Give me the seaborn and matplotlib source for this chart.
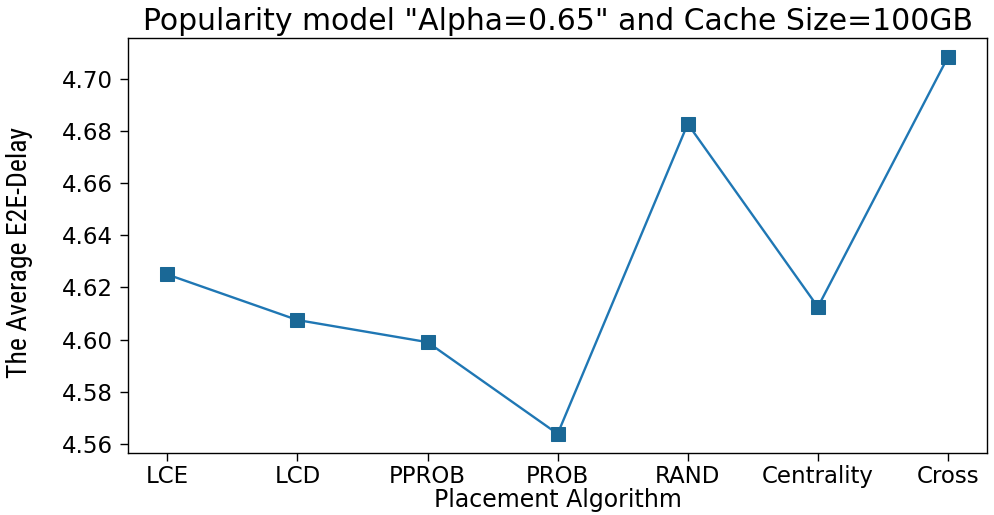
import matplotlib
matplotlib.use("Agg")
import matplotlib.pyplot as plt
import seaborn as sns
import pandas as pd

algorithms = ["LCE", "LCD", "PPROB", "PROB", "RAND", "Centrality", "Cross"]
avg_delay = [4.625, 4.6075, 4.599, 4.5638, 4.6828, 4.6125, 4.7085]
ytick_values = [4.56, 4.58, 4.60, 4.62, 4.64, 4.66, 4.68, 4.70]

df = pd.DataFrame({"Placement Algorithm": algorithms, "delay": avg_delay})

sns.set_style("ticks")
plt.rcParams["font.family"] = ["DejaVu Sans"]
plt.rcParams["text.color"] = "black"

fig = plt.figure(figsize=(9.94, 5.15), dpi=100)
ax = fig.add_axes([0.129, 0.121, 0.864, 0.805])

sns.lineplot(data=df, x="Placement Algorithm", y="delay", ax=ax, sort=False,
             color="#1f77b4", marker="s", markersize=9.5, linewidth=1.7,
             markeredgecolor="#1a6896", markerfacecolor="#1a6896")

for s in ax.spines.values():
    s.set_visible(True)
    s.set_linewidth(1.0)
    s.set_color("black")

ax.set_yticks(ytick_values)
ax.set_yticklabels([f"{v:.2f}" for v in ytick_values])
ax.tick_params(axis="both", labelsize=16.5, length=6, width=1,
               colors="black", labelcolor="black")
ax.tick_params(axis="y", pad=5)
ax.tick_params(axis="x", pad=3)
ax.set_xlabel("Placement Algorithm", fontsize=17, labelpad=0, color="black")
ax.set_ylabel("The Average E2E-Delay", fontsize=20, color="black",
              family=["Liberation Sans Narrow", "Roboto Condensed", "Archivo Narrow",
                      "PT Sans Narrow", "Open Sans"],
              fontstretch="condensed")
ax.yaxis.set_label_coords(-0.111, 0.482)
ax.set_title('Popularity model "Alpha=0.65" and Cache Size=100GB',
             fontsize=21.5, pad=6, color="black")

fig.savefig("out.png", dpi=100, facecolor="white")
